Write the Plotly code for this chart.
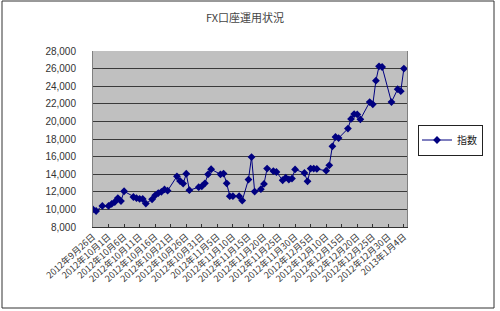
import plotly.graph_objects as go

dates = [
    "2012-09-26", "2012-09-27", "2012-09-29", "2012-10-01", "2012-10-02", "2012-10-03",
    "2012-10-04", "2012-10-05", "2012-10-06", "2012-10-09", "2012-10-10", "2012-10-11",
    "2012-10-12", "2012-10-13", "2012-10-15", "2012-10-16", "2012-10-17", "2012-10-18",
    "2012-10-19", "2012-10-20", "2012-10-23", "2012-10-24", "2012-10-25", "2012-10-26",
    "2012-10-27", "2012-10-30", "2012-10-31", "2012-11-01", "2012-11-02", "2012-11-03",
    "2012-11-06", "2012-11-07", "2012-11-08", "2012-11-09", "2012-11-10", "2012-11-12",
    "2012-11-13", "2012-11-15", "2012-11-16", "2012-11-17", "2012-11-19", "2012-11-20",
    "2012-11-21", "2012-11-23", "2012-11-24", "2012-11-26", "2012-11-27", "2012-11-28",
    "2012-11-29", "2012-11-30", "2012-12-03", "2012-12-04", "2012-12-05", "2012-12-06",
    "2012-12-07", "2012-12-10", "2012-12-11", "2012-12-12", "2012-12-13", "2012-12-14",
    "2012-12-17", "2012-12-18", "2012-12-19", "2012-12-20", "2012-12-21", "2012-12-24",
    "2012-12-25", "2012-12-26", "2012-12-27", "2012-12-28", "2012-12-31", "2013-01-02",
    "2013-01-03", "2013-01-04",
]
values = [
    10000, 9820, 10390, 10390, 10620, 10840,
    11290, 10950, 12060, 11410, 11270, 11200,
    11180, 10660, 11150, 11600, 11850, 12000,
    12270, 12130, 13760, 13230, 12930, 14050,
    12180, 12520, 12620, 12960, 13990, 14560,
    13990, 14070, 12960, 11500, 11500, 11500,
    11000, 13390, 15950, 12020, 12300, 12900,
    14640, 14350, 14250, 13310, 13600, 13400,
    13500, 14540, 14140, 13190, 14640, 14640,
    14600, 14400, 15010, 17170, 18230, 18100,
    19180, 20280, 20830, 20790, 20240, 22200,
    21940, 24630, 26260, 26180, 22200, 23660,
    23440, 26000,
]
series_name = "指数"
title_text = "FX口座運用状況"

JP = "Noto Sans CJK JP"
L, R, T, B = 93, 93, 51, 84
W, H = 500, 311
pw, ph = W - L - R, H - T - B

def px_x(x):
    return (x - L) / pw

def px_y(y):
    return (H - B - y) / ph

fig = go.Figure()
fig.add_trace(go.Scatter(
    x=dates, y=values, name=series_name, mode="lines+markers",
    line=dict(color="#000080", width=1),
    marker=dict(symbol="diamond", size=6, color="#000080"),
))

fig.update_layout(
    width=W, height=H,
    margin=dict(l=L, r=R, t=T, b=B),
    paper_bgcolor="white",
    plot_bgcolor="#C0C0C0",
    title=dict(text=title_text, x=0.49, xanchor="center", y=1 - 18 / H, yanchor="middle",
               font=dict(family=JP, size=11, color="#444444")),
    font=dict(family=JP, size=9, color="#222222"),
    showlegend=True,
    legend=dict(x=px_x(418), y=px_y(140), xanchor="left", yanchor="middle",
                bgcolor="white", bordercolor="#222222", borderwidth=1,
                font=dict(family=JP, size=10, color="#222222"),
                itemwidth=30, tracegroupgap=0, indentation=-2),
    xaxis=dict(
        type="date",
        range=["2012-09-26", "2013-01-05"],
        tick0="2012-09-26", dtick=5 * 86400000,
        tickformat="%Y年%-m月%-d日",
        tickangle=-42,
        ticks="inside", ticklen=3, tickcolor="#333333",
        showgrid=False, showline=True, linecolor="#333333", linewidth=1,
        tickfont=dict(family=JP, size=9, color="#333333"),
    ),
    yaxis=dict(
        range=[8000, 28000], dtick=2000, tickformat=",",
        showgrid=True, gridcolor="#3a3a3a", gridwidth=1,
        showline=True, linecolor="#808080", mirror=True,
        zeroline=False, ticks="", ticklabelstandoff=14,
        tickfont=dict(family="Liberation Sans", size=10, color="#333333"),
    ),
)

fig.add_shape(type="rect", xref="paper", yref="paper",
              x0=px_x(2), x1=px_x(494), y0=px_y(308), y1=px_y(1),
              line=dict(color="#333333", width=1), layer="below")

fig.write_html("out.html")
